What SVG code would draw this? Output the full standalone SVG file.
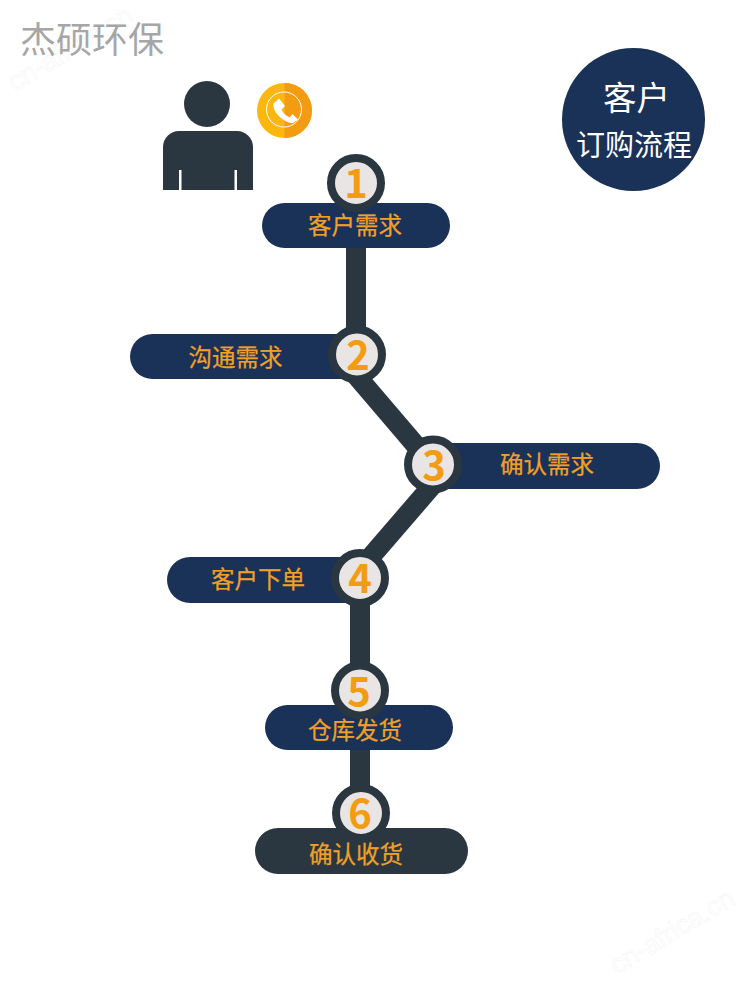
<svg xmlns="http://www.w3.org/2000/svg" width="750" height="985" viewBox="0 0 750 985">
<style>
text{font-family:"Noto Sans CJK SC","Noto Sans",sans-serif;text-anchor:middle}
.pill{fill:#1a3158}
.ring{fill:#e9e5e4;stroke:#2b3740;stroke-width:8}
.num{font-size:40px;font-weight:700;fill:#f39c12}
.lab{font-size:23.500px;font-weight:400;fill:#f0a028;stroke:#f0a028;stroke-width:.25}
.wm{font-family:"Liberation Sans",sans-serif;font-size:27px;fill:#fff;stroke:#f5f5f5;stroke-width:.6;text-anchor:start}
.seg{stroke:#2b3740;stroke-width:20;fill:none}
</style>
<rect width="750" height="985" fill="#fff"/>
<text class="wm" transform="translate(15 92) rotate(-31)">cn-africa.cn</text>
<text class="wm" transform="translate(617 975) rotate(-31)">cn-africa.cn</text>
<text x="92" y="53" style="font-size:36px;fill:#a6a6a6;font-weight:400">杰硕环保</text>
<g id="person">
<circle cx="207" cy="104" r="23" fill="#2b3740"/>
<path d="M163 190V147a16 16 0 0 1 16-16h58a16 16 0 0 1 16 16v43z" fill="#2b3740"/>
<path d="M179 170h2.500v20h-2.500zM234.500 170h2.500v20h-2.500z" fill="#fff"/>
</g>
<g id="phone">
<circle cx="284.500" cy="110.500" r="27.500" fill="#fbb70e"/>
<path d="M284.500 83a27.500 27.500 0 0 1 0 55z" fill="#f39c12"/>
<circle cx="284" cy="109.500" r="17.500" fill="none" stroke="#fff" stroke-width="1"/>
<path d="M273.500 103.500L279 98.500L285 106L281.500 109.500C283 113 286 116 289.500 117.500L292.500 114L298 119.500L293 123C286 124 272 113 273.500 103.500z" fill="#fff"/>
</g>
<g id="badge">
<circle cx="633.500" cy="119.500" r="71.500" fill="#1a3158"/>
<text x="636.500" y="110" style="font-size:33.500px;fill:#fff">客户</text>
<text x="634" y="156" style="font-size:29px;fill:#fff">订购流程</text>
</g>
<g id="connectors">
<path class="seg" d="M356 240V354"/>
<path class="seg" d="M351.500 370L424 455"/>
<path class="seg" d="M433.500 484L368 560"/>
<path class="seg" d="M360 590V690"/>
<path class="seg" d="M360 740V800"/>
</g>
<g id="node1">
<rect class="pill" x="262" y="203" width="188" height="45" rx="22.500"/>
<circle class="ring" cx="356" cy="183" r="25"/>
<text class="num" x="356" y="198">1</text>
<text class="lab" x="355" y="234">客户需求</text>
</g>
<g id="node2">
<path class="pill" d="M152.500 334H357V379H152.500a22.500 22.500 0 0 1 0-45z"/>
<circle class="ring" cx="357" cy="354.500" r="25"/>
<text class="num" x="358" y="370">2</text>
<text class="lab" x="235.500" y="366">沟通需求</text>
</g>
<g id="node3">
<path class="pill" d="M433 443H637a23 23 0 0 1 0 46H433z"/>
<circle class="ring" cx="433" cy="464.500" r="25"/>
<text class="num" x="434" y="480">3</text>
<text class="lab" x="547" y="473">确认需求</text>
</g>
<g id="node4">
<path class="pill" d="M190 557H360V603H190a23 23 0 0 1 0-46z"/>
<circle class="ring" cx="360" cy="578" r="25"/>
<text class="num" x="360" y="593">4</text>
<text class="lab" x="258" y="588">客户下单</text>
</g>
<g id="node5">
<rect class="pill" x="265" y="705" width="188" height="45" rx="22.500"/>
<circle class="ring" cx="360" cy="690.500" r="25"/>
<text class="num" x="359" y="706">5</text>
<text class="lab" x="355" y="738.500">仓库发货</text>
</g>
<g id="node6">
<rect x="255" y="828" width="213" height="46" rx="23" fill="#2b3740"/>
<circle class="ring" cx="361" cy="813" r="25"/>
<text class="num" x="360" y="828">6</text>
<text class="lab" x="356" y="863">确认收货</text>
</g>
</svg>
